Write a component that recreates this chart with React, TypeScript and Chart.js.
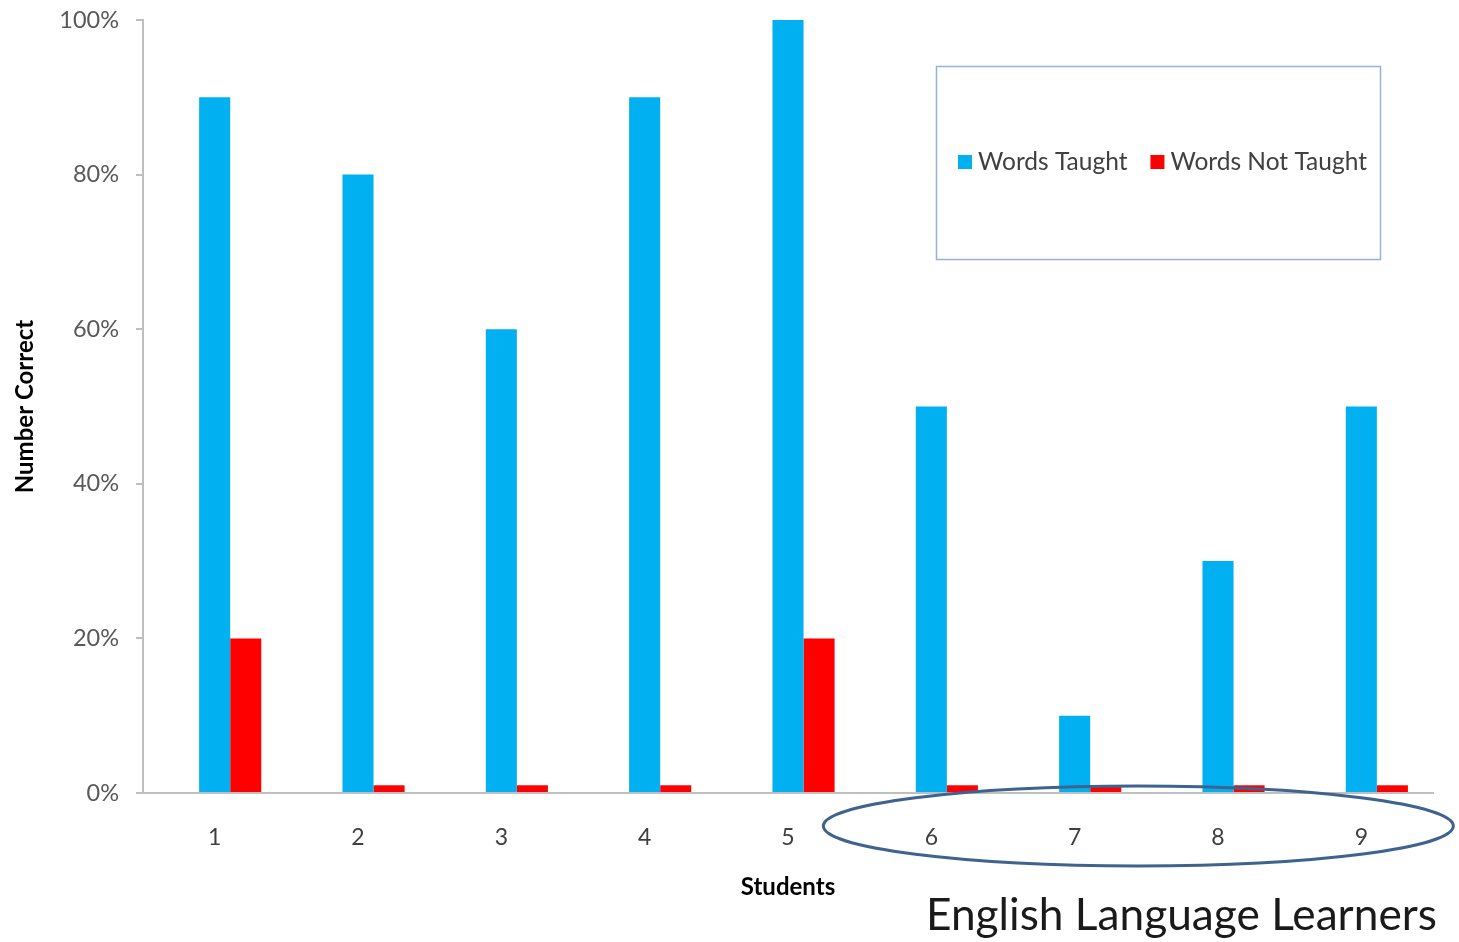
import React, { useEffect, useRef } from 'react';
import { Chart, registerables } from 'chart.js';

Chart.register(...registerables);

const students = ['1', '2', '3', '4', '5', '6', '7', '8', '9'];
const wordsTaught = [90, 80, 60, 90, 100, 50, 10, 30, 50];
const wordsNotTaught = [20, 1, 1, 1, 20, 1, 1, 1, 1];
const placeholder = [null, null, null, null, null, null, null, null, null];
const seriesLabels = ['Words Taught', 'Words Not Taught'];
const seriesColors = ['#00B0F0', '#FF0000'];
const yMax = 100;
const yStep = 20;
const annotationText = 'English Language Learners';
const ellGroupFirst = 5; // index of student 6
const ellGroupLast = 8; // index of student 9

const FONT = 'Lato, "Open Sans", sans-serif';

const overlayPlugin = {
  id: 'overlay',
  afterDraw(chart: any) {
    const ctx = chart.ctx as CanvasRenderingContext2D;
    const xs = chart.scales.x;
    ctx.save();

    // Legend box
    ctx.strokeStyle = '#95B3D7';
    ctx.lineWidth = 1.5;
    ctx.strokeRect(936.5, 66.5, 444, 193);

    ctx.font = `24.5px ${FONT}`;
    ctx.textBaseline = 'middle';
    ctx.textAlign = 'left';
    let lx = 958;
    const ly = 162;
    seriesLabels.forEach((lab, i) => {
      ctx.fillStyle = seriesColors[i];
      ctx.fillRect(lx, ly - 7, 14, 14);
      ctx.fillStyle = '#404040';
      ctx.fillText(lab, lx + 20, ly);
      lx += 20 + ctx.measureText(lab).width + 23;
    });

    // Ellipse around ELL students
    const x1 = xs.getPixelForValue(ellGroupFirst);
    const x2 = xs.getPixelForValue(ellGroupLast);
    const cx = (x1 + x2) / 2 - 8;
    const rx = (x2 - x1) / 2 + 100;
    ctx.beginPath();
    ctx.ellipse(cx, 826, rx, 40, 0, 0, Math.PI * 2);
    ctx.strokeStyle = '#3F638F';
    ctx.lineWidth = 3;
    ctx.stroke();

    // Annotation text
    ctx.fillStyle = '#1a1a1a';
    ctx.textBaseline = 'alphabetic';
    let size = 44;
    ctx.font = `${size}px ${FONT}`;
    const w = ctx.measureText(annotationText).width;
    size = size * 511 / w;
    ctx.font = `${size}px ${FONT}`;
    ctx.fillText(annotationText, 926, 930);

    ctx.restore();
  },
};

export default function App() {
  const ref = useRef<HTMLCanvasElement | null>(null);
  useEffect(() => {
    if (!ref.current) return;
    const chart = new Chart(ref.current, {
      type: 'bar',
      data: {
        labels: students,
        datasets: [
          { label: '', data: placeholder as any, backgroundColor: 'rgba(0,0,0,0)' },
          { label: seriesLabels[0], data: wordsTaught, backgroundColor: seriesColors[0] },
          { label: seriesLabels[1], data: wordsNotTaught, backgroundColor: seriesColors[1] },
        ],
      },
      options: {
        animation: false,
        responsive: true,
        maintainAspectRatio: false,
        layout: { padding: { left: 0, right: 26, top: 20, bottom: 0 } },
        datasets: { bar: { categoryPercentage: 0.65, barPercentage: 1 } },
        plugins: { legend: { display: false }, tooltip: { enabled: false } },
        scales: {
          x: {
            grid: { display: false },
            border: { display: true, color: '#BFBFBF', width: 2 },
            ticks: { color: '#404040', font: { family: FONT, size: 23 }, padding: 23 },
            title: {
              display: true,
              text: 'Students',
              color: '#000',
              font: { family: FONT, size: 24, weight: 'bold' },
              padding: { top: 0, bottom: 40 },
            },
            afterFit(scale: any) { scale.height = 149; scale.paddingLeft = 0; scale.paddingRight = 0; },
          },
          y: {
            min: 0,
            max: yMax,
            grid: { drawOnChartArea: false, drawTicks: true, tickLength: 7, color: '#BFBFBF', lineWidth: 2 },
            border: { display: true, color: '#BFBFBF', width: 2 },
            ticks: {
              stepSize: yStep,
              color: '#595959',
              font: { family: FONT, size: 23.5 },
              padding: 17,
              callback: (v: any) => `${v}%`,
            },
            title: {
              display: true,
              text: 'Number Correct',
              color: '#000',
              font: { family: FONT, size: 24, weight: 'bold' },
              padding: { top: 11, bottom: 0 },
            },
            afterFit(scale: any) { scale.width = 143; scale.paddingTop = 0; scale.paddingBottom = 0; },
          },
        },
      },
      plugins: [overlayPlugin],
    } as any);
    return () => chart.destroy();
  }, []);
  return (
    <div style={{ position: 'absolute', left: 0, top: 0, width: 1459, height: 942, background: '#fff' }}>
      <canvas ref={ref} />
    </div>
  );
}
